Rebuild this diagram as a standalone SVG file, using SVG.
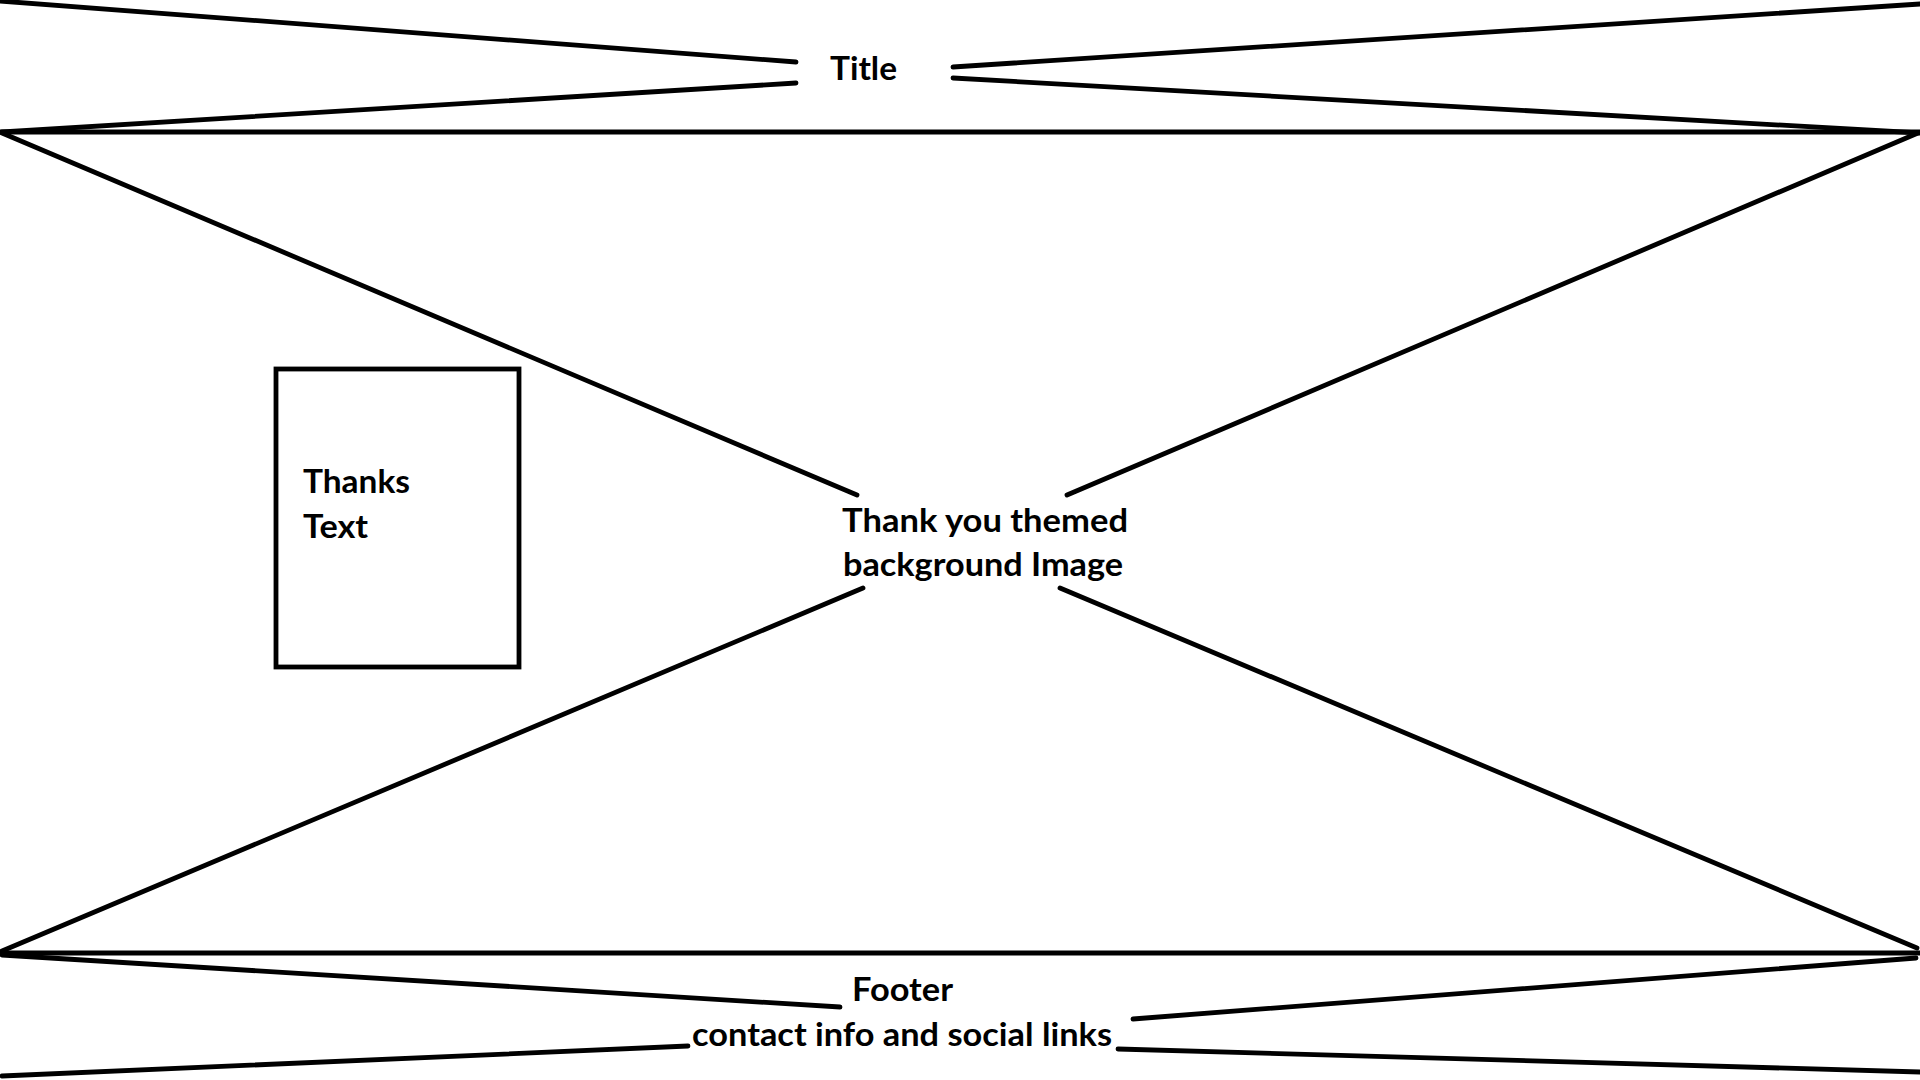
<svg xmlns="http://www.w3.org/2000/svg" width="1920" height="1080" viewBox="0 0 1920 1080">
  <style>
    .ln { stroke: #000; stroke-width: 4.8; stroke-linecap: round; fill: none; }
    .box { stroke: #000; stroke-width: 4.8; fill: none; }
    .lbl { font-family: Lato, "Liberation Sans", sans-serif; font-weight: bold; font-size: 32px; fill: #000; }
  </style>
  <rect x="0" y="0" width="1920" height="1080" fill="#fff"/>

  <!-- page frame and placeholder strokes -->
  <g id="connectors">
    <!-- header band -->
    <line class="ln" x1="0" y1="1" x2="796" y2="62"/>
    <line class="ln" x1="796" y1="83" x2="2" y2="132"/>
    <line class="ln" x1="953" y1="67" x2="1920" y2="4"/>
    <line class="ln" x1="953" y1="78" x2="1920" y2="133"/>
    <line class="ln" x1="0" y1="132" x2="1920" y2="132"/>
    <!-- background image cross -->
    <line class="ln" x1="2" y1="133" x2="857" y2="495"/>
    <line class="ln" x1="1918" y1="133" x2="1067" y2="495"/>
    <line class="ln" x1="2" y1="951" x2="863" y2="588"/>
    <line class="ln" x1="1060" y1="588" x2="1917" y2="948"/>
    <!-- footer band -->
    <line class="ln" x1="0" y1="953" x2="1920" y2="953"/>
    <line class="ln" x1="2" y1="955" x2="840" y2="1007"/>
    <line class="ln" x1="2" y1="1076" x2="688" y2="1046"/>
    <line class="ln" x1="1133" y1="1019" x2="1916" y2="958"/>
    <line class="ln" x1="1118" y1="1049" x2="1920" y2="1072"/>
  </g>

  <g id="title">
    <text class="lbl" x="830" y="80" textLength="67" lengthAdjust="spacingAndGlyphs">Title</text>
  </g>

  <g id="background-image">
    <text class="lbl" x="842" y="532" textLength="286" lengthAdjust="spacingAndGlyphs">Thank you themed</text>
    <text class="lbl" x="843" y="576" textLength="280" lengthAdjust="spacingAndGlyphs">background Image</text>
  </g>

  <g id="thanks-text">
    <rect class="box" x="276" y="369" width="243" height="298"/>
    <text class="lbl" x="303" y="493" textLength="107" lengthAdjust="spacingAndGlyphs">Thanks</text>
    <text class="lbl" x="303" y="538" textLength="65" lengthAdjust="spacingAndGlyphs">Text</text>
  </g>

  <g id="footer">
    <text class="lbl" x="852" y="1001" textLength="101" lengthAdjust="spacingAndGlyphs">Footer</text>
    <text class="lbl" x="692" y="1046" textLength="420" lengthAdjust="spacingAndGlyphs">contact info and social links</text>
  </g>
</svg>
